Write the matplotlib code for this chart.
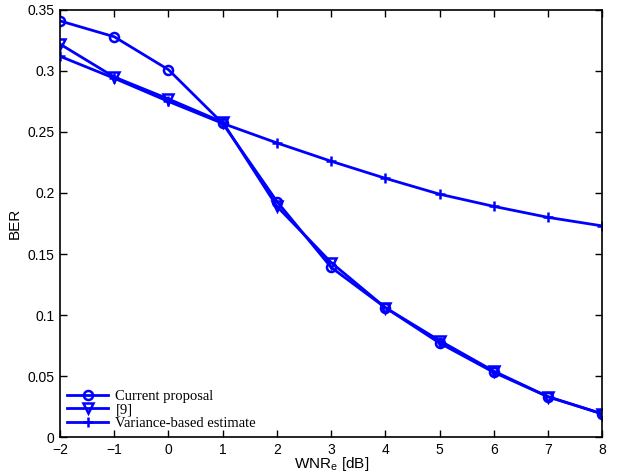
import matplotlib
matplotlib.use("Agg")
import matplotlib.pyplot as plt
import numpy as np

# data
wnr = [-2, -1, 0, 1, 2, 3, 4, 5, 6, 7, 8]
ber_current = [0.341, 0.328, 0.301, 0.257, 0.193, 0.139, 0.106, 0.077, 0.053, 0.033, 0.019]
ber_ref9 = [0.322, 0.295, 0.277, 0.258, 0.189, 0.143, 0.106, 0.079, 0.054, 0.033, 0.019]
ber_var = [0.312, 0.294, 0.275, 0.257, 0.241, 0.226, 0.212, 0.199, 0.189, 0.180, 0.173]

plt.rcParams['font.family'] = ['Liberation Sans', 'DejaVu Sans']

fig = plt.figure(figsize=(6.22, 4.72), dpi=100)
ax = fig.add_axes([0.0965, 0.074, 0.872, 0.905])

blue = '#0000ff'
ax.plot(wnr, ber_current, color=blue, lw=2, marker='o', ms=6.5, mfc='none', mew=1.8,
        label='Current proposal')
ax.plot(wnr, ber_ref9, color=blue, lw=2, marker='v', ms=6.5, mfc='none', mew=1.8,
        label='[9]')
ax.plot(wnr, ber_var, color=blue, lw=2, marker='+', ms=7, mew=1.8,
        label='Variance-based estimate')

ax.set_xlim(-2, 8)
ax.set_ylim(0, 0.35)
ax.set_xticks(range(-2, 9))
ax.set_xticklabels(['\u22122', '\u22121'] + [str(v) for v in range(0, 9)])
ax.set_yticks(np.arange(0, 0.351, 0.05))
ax.set_yticklabels(['0', '0.05', '0.1', '0.15', '0.2', '0.25', '0.3', '0.35'])
ax.tick_params(direction='in', top=True, right=True, labelsize=10, length=5, width=1, pad=4)
for s in ax.spines.values():
    s.set_linewidth(1.2)

ax.set_xlabel('WNR$_\\mathregular{e}$ [dB]', fontsize=11, labelpad=-1.5)
ax.set_ylabel('BER', fontsize=11, labelpad=4)

leg = ax.legend(loc='lower left', frameon=False, prop={'family': 'Liberation Serif', 'size': 10.5},
                handlelength=2.8, labelspacing=0.02, borderaxespad=0.0, handletextpad=0.5,
                borderpad=0.5)

fig.savefig('out.png', dpi=100)
